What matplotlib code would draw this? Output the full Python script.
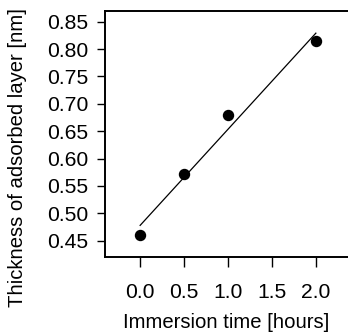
import matplotlib
matplotlib.use("Agg")
import matplotlib.pyplot as plt

# measured points
time_h = [0.0, 0.5, 1.0, 2.0]
thickness_nm = [0.460, 0.572, 0.679, 0.815]

fit_x = [0.0, 2.0]
fit_y = [0.478, 0.829]

x_ticks = [0.0, 0.5, 1.0, 1.5, 2.0]
y_ticks = [0.45, 0.50, 0.55, 0.60, 0.65, 0.70, 0.75, 0.80, 0.85]

plt.rcParams['font.family'] = ['Liberation Sans', 'DejaVu Sans']

fig = plt.figure(figsize=(3.48, 3.36), dpi=100)
# the right side of the box is cut off in the original picture
ax = fig.add_axes([105 / 348, 1 - 256.7 / 336, 246 / 348, 246 / 336])

ax.plot(fit_x, fit_y, color='black', lw=0.9)
ax.plot(time_h, thickness_nm, 'o', color='black', ms=7.2)

ax.set_xlim(-0.4, 2.4)
ax.set_ylim(0.4208, 0.870)
ax.set_xticks(x_ticks)
ax.set_xticklabels([f"{v:.1f}" for v in x_ticks])
ax.set_yticks(y_ticks)
ax.set_yticklabels([f"{v:.2f}" for v in y_ticks])

for s in ax.spines.values():
    s.set_linewidth(1.4)

ax.tick_params(axis='x', length=7, width=1, pad=12, labelsize=15.2)
ax.tick_params(axis='y', length=6, width=1, pad=6, labelsize=15.2)

fig.text(18 / 348, 1 - 157.5 / 336, "Thickness of adsorbed layer [nm]",
         rotation=90, ha='center', va='center', fontsize=14.6)
fig.text(226 / 348, 1 - 322 / 336, "Immersion time [hours]",
         ha='center', va='center', fontsize=14.6)

fig.savefig("out.png", dpi=100)
